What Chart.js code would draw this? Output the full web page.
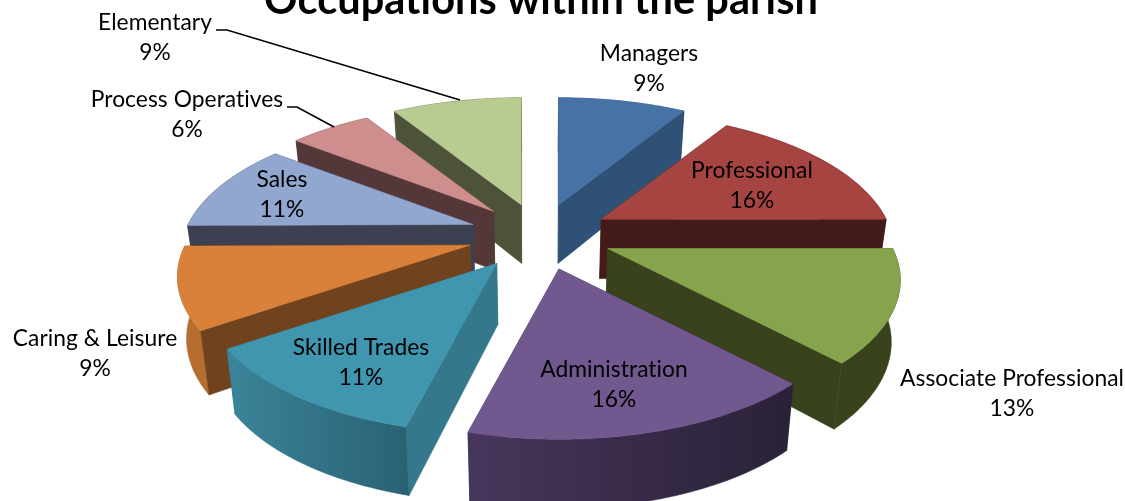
<!DOCTYPE html>
<html>
<head>
<meta charset="utf-8">
<title>Occupations within the parish</title>
<script src="https://cdn.jsdelivr.net/npm/chart.js@4"></script>
<style>
  html, body { margin: 0; padding: 0; background: #fff; }
  canvas { display: block; }
</style>
</head>
<body>
<canvas id="pie" width="1125" height="501"></canvas>
<script>
// Occupations within the parish | exploded 3D pie

const chartTitle = 'Occupations within the parish';
const occupations = ['Managers', 'Professional', 'Associate Professional', 'Administration', 'Skilled Trades', 'Caring & Leisure', 'Sales', 'Process Operatives', 'Elementary'];
const shares = [8.8, 16.2, 13, 16, 11.4, 9.49, 10.61, 5.6, 8.9];

const topColors = ['#4672A6', '#A64442', '#87A34B', '#71588F', '#4095AF', '#D9813A', '#92A7CF', '#CE8E8D', '#B8CB90'];
const wallColors = ['#2F5175', '#431B19', '#38431D', '#2E2439', '#35788B', '#70421D', '#3C4050', '#533739', '#4D5339'];
const rimLeft = ['#2F5175', '#431B19', '#38431D', '#46365C', '#3B8499', '#B56E2F', '#3C4050', '#533739', '#4D5339'];
const rimRight = ['#2F5175', '#431B19', '#38431D', '#2A2137', '#2A6274', '#B56E2F', '#3C4050', '#533739', '#4D5339'];

// label centre (first line) for each slice, same order as occupations
const labelSpots = [[649, 54], [752, 171], [1012, 379], [614, 370], [361, 348], [95, 339], [282, 180], [187, 100], [155, 23]];
const leaders = [
  [[216, 30], [227, 30], [460, 100]],
  [[287, 107], [297, 107], [334, 127]],
];

// view settings for the fake perspective
const RADIUS_X = 285;
const TILT = 0.461;
const DEPTH = 0.228;
const EXPLODE = 72;

function project(u, v) {
  const s = 1 / (1 - DEPTH * v / RADIUS_X);
  return { x: u * s, y: v * TILT * s };
}

function paintSlice(ctx, el, i) {
  const { x: cx, y: cy, startAngle, endAngle } = el.getProps(['x', 'y', 'startAngle', 'endAngle'], true);
  const mid = (startAngle + endAngle) / 2;
  const off = project(EXPLODE * Math.cos(mid), EXPLODE * Math.sin(mid));
  const apex = { x: cx + off.x, y: cy + off.y };

  const rim = [];
  const steps = 48;
  for (let k = 0; k <= steps; k++) {
    const a = startAngle + (endAngle - startAngle) * k / steps;
    const p = project(RADIUS_X * Math.cos(a), RADIUS_X * Math.sin(a));
    rim.push({ x: apex.x + p.x, y: apex.y + p.y });
  }

  const drop = p => ({
    x: p.x - (p.x - cx) * 0.025,
    y: p.y + 60 * (1 + (p.y - cy) * 0.00075),
  });

  const poly = (pts, fill) => {
    ctx.beginPath();
    pts.forEach((p, k) => k ? ctx.lineTo(p.x, p.y) : ctx.moveTo(p.x, p.y));
    ctx.closePath();
    ctx.fillStyle = fill;
    ctx.fill();
    ctx.strokeStyle = fill;
    ctx.lineWidth = 0.5;
    ctx.stroke();
  };

  const first = rim[0];
  const last = rim[rim.length - 1];
  const xs = rim.map(p => p.x);
  const grad = ctx.createLinearGradient(Math.min(...xs), 0, Math.max(...xs), 0);
  grad.addColorStop(0, rimLeft[i]);
  grad.addColorStop(1, rimRight[i]);

  const walls = [
    { pts: [apex, first, drop(first), drop(apex)], fill: wallColors[i] },
    { pts: [apex, last, drop(last), drop(apex)], fill: wallColors[i] },
    { pts: rim.concat(rim.map(drop).reverse()), fill: grad },
  ];
  const meanY = pts => pts.reduce((s, p) => s + p.y, 0) / pts.length;
  walls.sort((a, b) => meanY(a.pts) - meanY(b.pts));
  walls.forEach(w => poly(w.pts, w.fill));

  poly([apex].concat(rim), el.options.backgroundColor);
}

class Pie3DController extends Chart.PieController {
  draw() {
    const ctx = this.chart.ctx;
    const els = this.getMeta().data;
    const depth = el => Math.sin((el.startAngle + el.endAngle) / 2);
    const order = els.map((el, i) => i).sort((a, b) => depth(els[a]) - depth(els[b]));
    ctx.save();
    order.forEach(i => paintSlice(ctx, els[i], i));
    ctx.restore();
  }
}
Pie3DController.id = 'pie3d';
Pie3DController.defaults = {};
Chart.register(Pie3DController);

const textPlugin = {
  id: 'sliceText',
  afterDraw(chart) {
    const ctx = chart.ctx;
    ctx.save();
    ctx.fillStyle = '#000';
    ctx.textAlign = 'center';
    ctx.textBaseline = 'alphabetic';
    ctx.letterSpacing = '0.05px'; // stops the ti ligature

    ctx.font = 'bold 41.5px Lato';
    ctx.fillText(chartTitle, 541, 14);

    ctx.font = '22.8px Lato';
    occupations.forEach((name, i) => {
      const [x, y] = labelSpots[i];
      ctx.fillText(name, x, y + 7);
      ctx.fillText(Math.round(shares[i]) + '%', x, y + 37);
    });

    ctx.strokeStyle = '#000';
    ctx.lineWidth = 1.6;
    leaders.forEach(line => {
      ctx.beginPath();
      line.forEach(([x, y], k) => k ? ctx.lineTo(x, y) : ctx.moveTo(x, y));
      ctx.stroke();
    });
    ctx.restore();
  }
};

new Chart(document.getElementById('pie'), {
  type: 'pie3d',
  data: {
    labels: occupations,
    datasets: [{ data: shares, backgroundColor: topColors, borderWidth: 0 }]
  },
  options: {
    responsive: false,
    animation: false,
    layout: { padding: { right: 45, bottom: 31 } },
    plugins: { legend: { display: false }, tooltip: { enabled: false } }
  },
  plugins: [textPlugin]
});
</script>
</body>
</html>
